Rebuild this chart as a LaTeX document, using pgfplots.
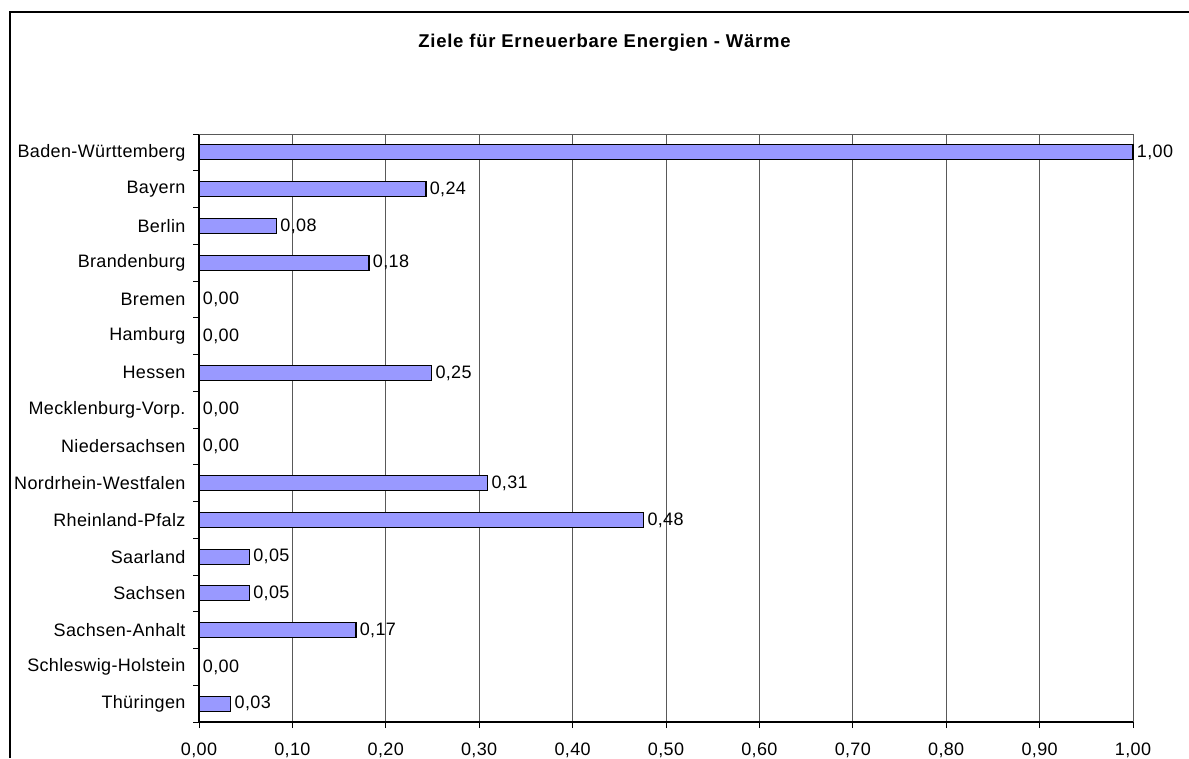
\documentclass[border=0pt]{standalone}
\usepackage{fontspec}
\setmainfont{Liberation Sans}
\usepackage{pgfplots}
\usepackage{pgfplotstable}
\pgfplotsset{compat=1.18}
\definecolor{barfill}{HTML}{9999FF}
\pgfplotstableread{
idx val
0 1.00
1 0.243
2 0.083
3 0.182
4 0
5 0
6 0.249
7 0
8 0
9 0.309
10 0.476
11 0.054
12 0.054
13 0.168
14 0
15 0.034
}\datatable
\newcommand{\lblfont}{\fontsize{18}{21}\selectfont\addfontfeature{LetterSpace=2}}
\begin{document}
\begin{tikzpicture}
\useasboundingbox (0,0) rectangle (1189pt,758pt);
\draw[line width=1.5pt] (10pt,0) -- (10pt,746pt) -- (1189pt,746pt);
\node[font=\fontsize{18.5}{22}\selectfont\bfseries\addfontfeature{LetterSpace=4}] at (604.5pt,715pt) {Ziele für Erneuerbare Energien - Wärme};
\begin{axis}[
  at={(199pt,36pt)}, anchor=south west, scale only axis,
  width=934pt, height=588pt,
  xmin=0, xmax=1, ymin=-0.5, ymax=15.5, y dir=reverse,
  xbar, bar width=15pt,
  axis x line=bottom, axis y line=left,
  axis line style={-, line width=1.4pt, black},
  xtick={0,0.1,0.2,0.3,0.4,0.5,0.6,0.7,0.8,0.9,1},
  xmajorgrids, major grid style={black!65, line width=0.9pt},
  ytick={0,...,15},
  yticklabels={Baden-Württemberg,Bayern,Berlin,Brandenburg,Bremen,Hamburg,Hessen,Mecklenburg-Vorp.,Niedersachsen,Nordrhein-Westfalen,Rheinland-Pfalz,Saarland,Sachsen,Sachsen-Anhalt,Schleswig-Holstein,Thüringen},
  minor ytick={-0.5,0.5,...,15.5},
  tick align=outside, major tick length=6pt, minor tick length=6pt,
  major y tick style={draw=none},
  minor y tick style={black, line width=1pt},
  major x tick style={black, line width=1pt},
  tick label style={font=\lblfont},
  xticklabel style={yshift=-11pt},
  yticklabel style={xshift=-4pt},
  /pgf/number format/.cd, fixed, fixed zerofill, precision=2, use comma, assume math mode=true,
  /pgfplots/.cd,
  point meta=x,
  nodes near coords,
  nodes near coords style={font=\lblfont, /pgf/number format/.cd, fixed, fixed zerofill, precision=2, use comma, assume math mode=true},
  clip=false,
]
\addplot[fill=barfill, draw=black, line width=1.2pt] table[x=val, y=idx] {\datatable};
\draw[black!65, line width=0.9pt] (axis cs:0,-0.5) -- (axis cs:1,-0.5);
\end{axis}
\end{tikzpicture}
\end{document}
